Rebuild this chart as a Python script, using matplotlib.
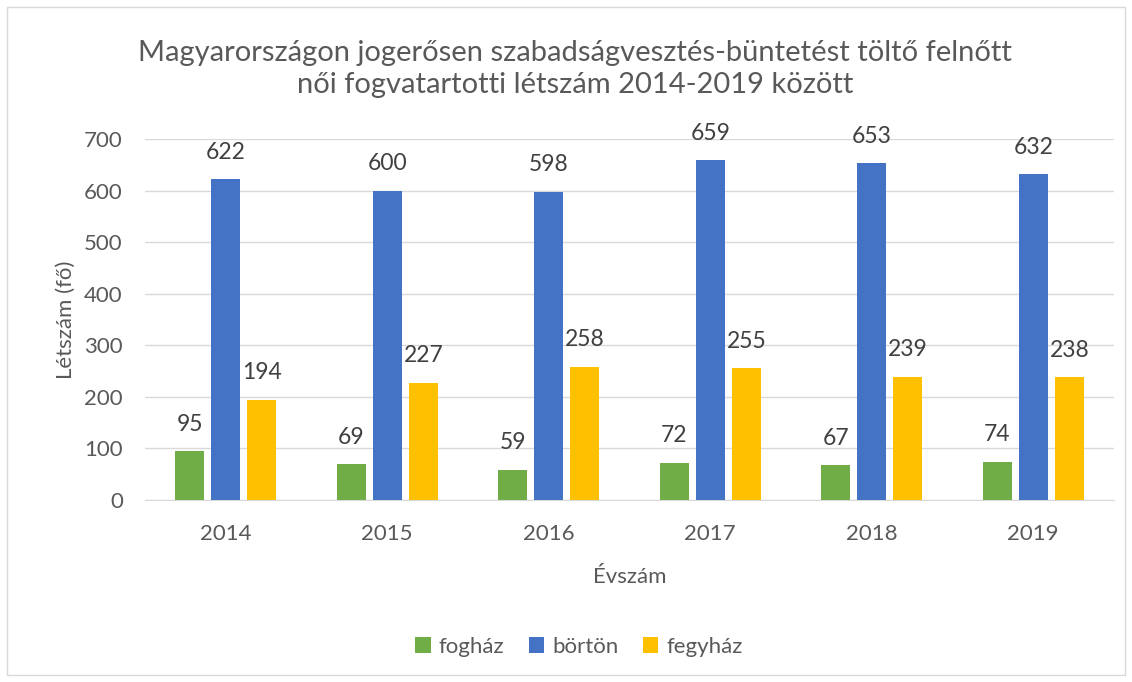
import matplotlib
matplotlib.use("Agg")
import matplotlib.pyplot as plt
import numpy as np
from matplotlib.patches import Rectangle

years = ["2014", "2015", "2016", "2017", "2018", "2019"]
foghaz = [95, 69, 59, 72, 67, 74]
borton = [622, 600, 598, 659, 653, 632]
fegyhaz = [194, 227, 258, 255, 239, 238]
series_names = ["fogház", "börtön", "fegyház"]
colors = ["#70AD47", "#4472C4", "#FFC000"]
yticks = [0, 100, 200, 300, 400, 500, 600, 700]

plt.rcParams['font.family'] = ['Lato', 'DejaVu Sans']
txt = "#595959"

fig = plt.figure(figsize=(11.32, 6.82), dpi=100)
fig.patches.append(Rectangle((7/1132, 7/682), 1 - 14/1132, 1 - 14/682, transform=fig.transFigure,
                             fill=False, edgecolor="#D9D9D9", linewidth=1))
ax = fig.add_axes([145/1132, 1 - 500/682, 969/1132, 361/682])

x = np.arange(len(years))
w = 0.18
off = 0.223
for i, (vals, name, c) in enumerate(zip([foghaz, borton, fegyhaz], series_names, colors)):
    bars = ax.bar(x + (i - 1) * off, vals, width=w, color=c, label=name, zorder=3)
    for b, v in zip(bars, vals):
        ax.annotate(str(v), (b.get_x() + b.get_width() / 2, v), xytext=(0, 27),
                    textcoords="offset pixels", ha="center", va="center",
                    fontsize=16.5, color="#404040")

ax.set_xlim(-0.5, len(years) - 0.5)
ax.set_ylim(0, 700)
ax.set_yticks(yticks)
ax.set_xticks(x)
ax.set_xticklabels(years)
ax.tick_params(axis="both", length=0, labelsize=16, colors=txt)
ax.tick_params(axis="x", pad=17)
ax.tick_params(axis="y", pad=16)
ax.grid(axis="y", color="#D9D9D9", linewidth=1, zorder=0)
for s in ["top", "right", "left"]:
    ax.spines[s].set_visible(False)
ax.spines["bottom"].set_color("#D9D9D9")

ax.set_ylabel("Létszám (fő)", fontsize=16, color=txt, labelpad=6)
ax.set_xlabel("Évszám", fontsize=16, color=txt, labelpad=17)

fig.text(575/1132, 1 - 69/682,
         "Magyarországon jogerősen szabadságvesztés-büntetést töltő felnőtt\nnői fogvatartotti létszám 2014-2019 között",
         ha="center", va="center", fontsize=21, color=txt, linespacing=1.3)

fig.legend(loc="center", bbox_to_anchor=(579/1132, 1 - 647/682), ncol=3, frameon=False,
           fontsize=16, labelcolor=txt, handlelength=0.7, handleheight=0.7, columnspacing=1.1,
           handletextpad=0.35)

fig.savefig("out.png", dpi=100)
